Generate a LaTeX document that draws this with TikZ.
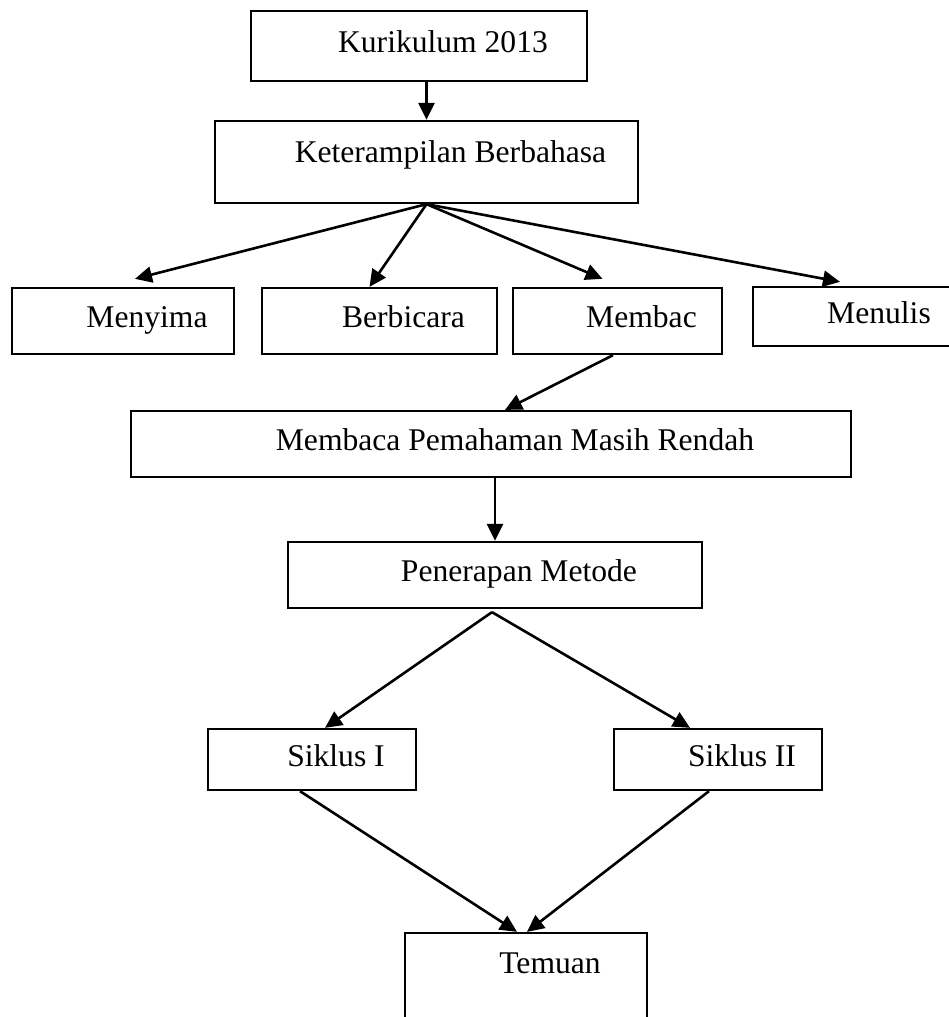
\documentclass[tikz,border=0pt]{standalone}
\usepackage{fontspec}
\setmainfont{Liberation Serif}
\usepackage{tikz}
\usetikzlibrary{arrows.meta}

\begin{document}
\begin{tikzpicture}[x=1pt,y=-1pt,
  box/.style={draw,line width=2.3pt,inner sep=0pt,text height=22pt,text depth=8.5pt,
              font=\fontsize{31.6pt}{38pt}\selectfont,execute at begin node=\hspace*{48pt}},
  tall/.style={text depth=22pt},
  arr/.style={-{Triangle[length=17pt,width=16pt]},line width=2.6pt}]
  \useasboundingbox (0,0) rectangle (949,1017);
  \clip (0,0) rectangle (949,1017);
  % boxes
  \node[box,minimum width=336pt,minimum height=70pt] (kur) at (419,46) {Kurikulum 2013};
  \node[box,tall,minimum width=423pt,minimum height=82pt] (ket) at (426.5,162) {Keterampilan Berbahasa};
  \node[box,minimum width=222pt,minimum height=66pt] (men) at (123,321) {Menyima};
  \node[box,minimum width=235pt,minimum height=66pt] (ber) at (379.5,321) {Berbicara};
  \node[box,minimum width=209pt,minimum height=66pt] (mbc) at (617.5,321) {Membac};
  \node[box,minimum width=204pt,minimum height=59pt] (mnl) at (855,316.5) {Menulis};
  \node[box,minimum width=720pt,minimum height=66pt] (mpm) at (491,444) {Membaca Pemahaman Masih Rendah};
  \node[box,minimum width=414pt,minimum height=66pt] (pen) at (495,575) {Penerapan Metode};
  \node[box,minimum width=208pt,minimum height=61pt] (sk1) at (312,759.5) {Siklus I};
  \node[box,minimum width=208pt,minimum height=61pt] (sk2) at (718,759.5) {Siklus II};
  \node[box,text depth=42pt,minimum width=242pt,minimum height=100pt] (tem) at (526,983) {Temuan};
  % arrows
  \draw[arr] (ket.north |- kur.south) -- (ket.north);
  \draw[arr] (ket.south) -- ([xshift=12pt,yshift=8pt]men.north);
  \draw[arr] (ket.south) -- ([xshift=-10pt]ber.north);
  \draw[arr] (ket.south) -- ([xshift=-15pt,yshift=8pt]mbc.north);
  \draw[arr] (ket.south) -- ([xshift=-15pt,yshift=4pt]mnl.north);
  \draw[arr] ([xshift=-4.5pt]mbc.south) -- ([xshift=14pt]mpm.north);
  \draw[arr] (pen.north |- mpm.south) -- (pen.north);
  \draw[arr] ([xshift=-3pt,yshift=-3pt]pen.south) -- ([xshift=13pt]sk1.north);
  \draw[arr] ([xshift=-3pt,yshift=-3pt]pen.south) -- ([xshift=-28pt]sk2.north);
  \draw[arr] ([xshift=-12pt]sk1.south) -- ([xshift=-9pt]tem.north);
  \draw[arr] ([xshift=-9pt]sk2.south) -- ([xshift=1pt]tem.north);
\end{tikzpicture}
\end{document}
